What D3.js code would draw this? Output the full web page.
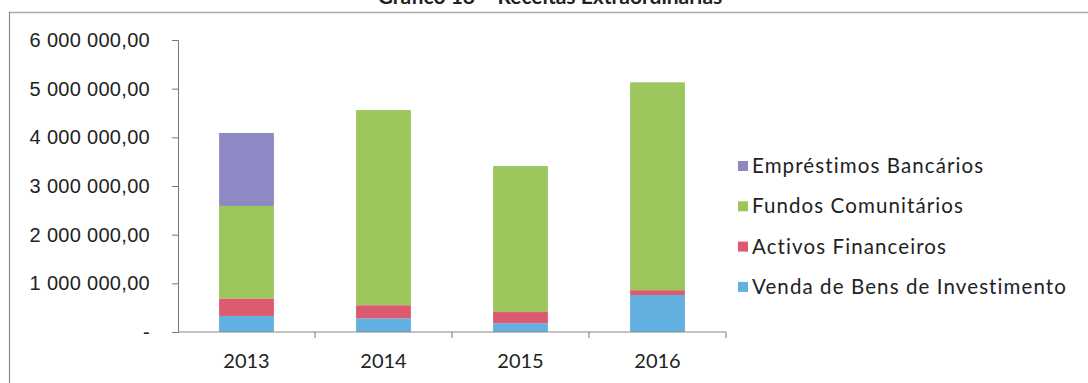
<!DOCTYPE html>
<html>
<head>
<meta charset="utf-8">
<script src="https://cdn.jsdelivr.net/npm/d3@7"></script>
<style>
  body { margin: 0; background: #fff; }
  svg { display: block; font-family: Lato, "Open Sans", sans-serif; }
</style>
</head>
<body>
<svg id="chart" width="1088" height="383"></svg>
<script>
const years = ["2013", "2014", "2015", "2016"]
const seriesNames = ["Venda de Bens de Investimento", "Activos Financeiros", "Fundos Comunitários", "Empréstimos Bancários"]
const venda = [330000, 280000, 180000, 760000]
const activos = [360000, 270000, 230000, 100000]
const fundos = [1900000, 4010000, 3000000, 4270000]
const emprestimos = [1500000, 0, 0, 0]
const yTicks = [0, 1000000, 2000000, 3000000, 4000000, 5000000, 6000000]
const colors = ["#62b0df", "#dc5a6f", "#9cc65c", "#8e88c5"]

const svg = d3.select("#chart")

// frame & cut-off title
svg.append("text")
  .attr("x", 550).attr("y", 4)
  .attr("text-anchor", "middle")
  .attr("font-weight", "bold")
  .attr("font-size", 21)
  .attr("fill", "#222")
  .text("Gráfico 18 – Receitas Extraordinárias")
svg.append("line").attr("x1", 9).attr("x2", 1088).attr("y1", 12.5).attr("y2", 12.5)
  .attr("stroke", "#aaa").attr("stroke-width", 1.5)
svg.append("line").attr("x1", 9.5).attr("x2", 9.5).attr("y1", 12).attr("y2", 383)
  .attr("stroke", "#888").attr("stroke-width", 1.2)

const margin = { left: 178, right: 362, top: 40, bottom: 51 }
const W = 1088, H = 383

const x = d3.scaleBand().domain(years).range([margin.left, W - margin.right]).paddingInner(0.6).paddingOuter(0.3)
const y = d3.scaleLinear().domain([0, 6000000]).range([H - margin.bottom, margin.top])

const table = years.map((yr, i) => ({ year: yr, venda: venda[i], activos: activos[i], fundos: fundos[i], emprestimos: emprestimos[i] }))
const stack = d3.stack().keys(["venda", "activos", "fundos", "emprestimos"])(table)

const fmt = v => v === 0 ? "-" : d3.format(",.2f")(v).replace(/,/g, " ").replace(".", ",")

// bars
svg.append("g").selectAll("g")
  .data(stack)
  .join("g")
  .attr("fill", (d, i) => colors[i])
  .selectAll("rect")
  .data(d => d)
  .join("rect")
  .attr("x", d => x(d.data.year))
  .attr("width", x.bandwidth())
  .attr("y", d => y(d[1]))
  .attr("height", d => y(d[0]) - y(d[1]))

// y axis
const yAxis = svg.append("g")
  .attr("transform", `translate(${margin.left},0)`)
  .call(d3.axisLeft(y).tickValues(yTicks).tickFormat(fmt).tickSize(6).tickPadding(22))
yAxis.select(".domain").attr("stroke", "#777")
yAxis.selectAll(".tick line").attr("stroke", "#777")
yAxis.selectAll("text").attr("font-size", 20).attr("letter-spacing", 0.3).attr("fill", "#222")

// x axis with ticks at category boundaries
const catW = (W - margin.right - margin.left) / years.length
const bounds = years.map((d, i) => margin.left + catW * (i + 1))
const xAxis = svg.append("g").attr("transform", `translate(0,${y(0)})`)
xAxis.append("line").attr("x1", margin.left).attr("x2", W - margin.right)
  .attr("stroke", "#888").attr("stroke-width", 1.2)
xAxis.selectAll("line.tk").data(bounds).join("line").attr("class", "tk")
  .attr("x1", d => d).attr("x2", d => d).attr("y1", 0).attr("y2", 6)
  .attr("stroke", "#777")
xAxis.selectAll("text").data(years).join("text")
  .attr("x", d => x(d) + x.bandwidth() / 2)
  .attr("y", 36)
  .attr("text-anchor", "middle")
  .attr("font-size", 20)
  .attr("fill", "#222")
  .text(d => d)

// legend (top entry is last series)
const legend = svg.append("g").attr("transform", "translate(738,166)")
const order = [3, 2, 1, 0]
order.forEach((s, i) => {
  const g = legend.append("g").attr("transform", `translate(0,${i * 40.3})`)
  g.append("rect").attr("x", 0).attr("y", -5).attr("width", 10).attr("height", 10).attr("fill", colors[s])
  g.append("text").attr("x", 14).attr("y", 0).attr("dy", "0.35em")
    .attr("font-size", 20.5).attr("letter-spacing", 1.1).attr("fill", "#222").text(seriesNames[s])
})
</script>
</body>
</html>
